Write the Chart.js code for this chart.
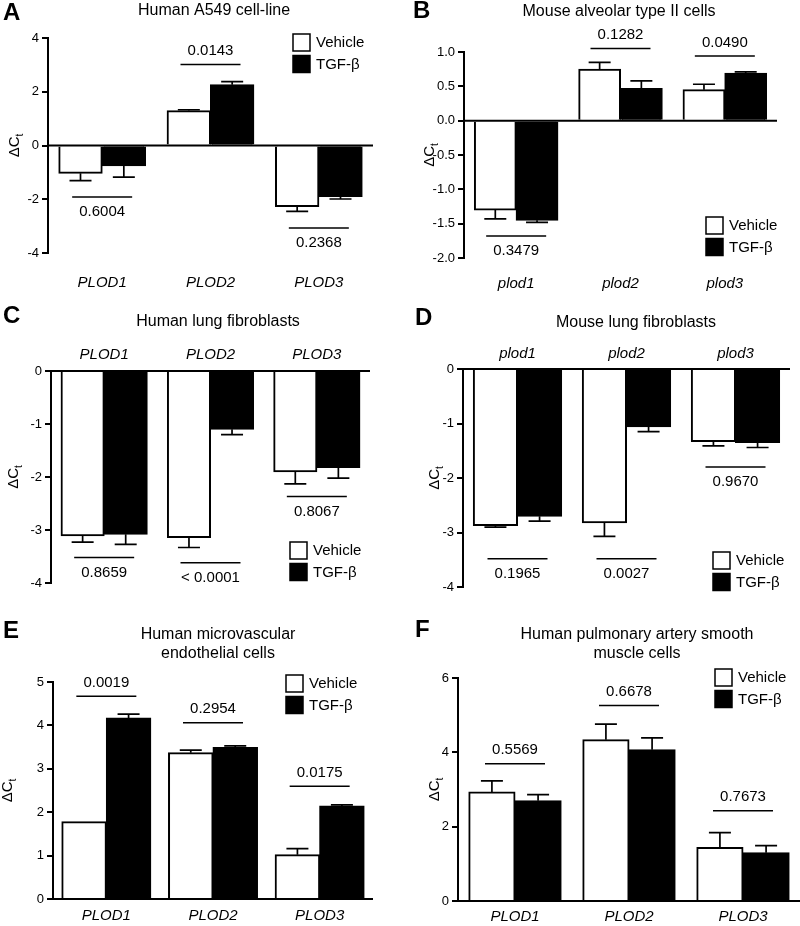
<!DOCTYPE html>
<html>
<head>
<meta charset="utf-8">
<script src="https://cdn.jsdelivr.net/npm/chart.js@4.4.1/dist/chart.umd.min.js"></script>
<style>
  body { margin: 0; background: #fff; }
  #fig { position: relative; width: 800px; height: 926px; }
  #fig canvas { position: absolute; }
</style>
</head>
<body>
<div id="fig">
  <canvas id="panelA" width="400" height="300" style="left:0;top:0"></canvas>
  <canvas id="panelB" width="400" height="300" style="left:400px;top:0"></canvas>
  <canvas id="panelC" width="400" height="320" style="left:0;top:300px"></canvas>
  <canvas id="panelD" width="400" height="320" style="left:400px;top:300px"></canvas>
  <canvas id="panelE" width="400" height="306" style="left:0;top:620px"></canvas>
  <canvas id="panelF" width="400" height="306" style="left:400px;top:620px"></canvas>
</div>
<script>
const FONT = '"Liberation Sans", Arial, Helvetica, sans-serif';
Chart.defaults.font.family = FONT;
Chart.defaults.color = '#000';

// gene names and groups
const humanGenes = ['PLOD1', 'PLOD2', 'PLOD3'];
const mouseGenes = ['plod1', 'plod2', 'plod3'];
const groupNames = ['Vehicle', 'TGF-β'];

// A - Human A549 cell-line
const a549Vehicle = [-1.03, 1.29, -2.27];
const a549VehicleErr = [0.28, 0.04, 0.18];
const a549Tgf = [-0.75, 2.26, -1.90];
const a549TgfErr = [0.43, 0.12, 0.09];
const a549P = ['0.6004', '0.0143', '0.2368'];
const a549PLine = [-1.92, 3.01, -3.07];

// B - Mouse alveolar type II cells
const at2Vehicle = [-1.30, 0.75, 0.45];
const at2VehicleErr = [0.13, 0.10, 0.08];
const at2Tgf = [-1.45, 0.47, 0.69];
const at2TgfErr = [0.03, 0.11, 0.02];
const at2P = ['0.3479', '0.1282', '0.0490'];
const at2PLine = [-1.68, 1.05, 0.94];

// C - Human lung fibroblasts
const hlfVehicle = [-3.11, -3.14, -1.90];
const hlfVehicleErr = [0.12, 0.19, 0.23];
const hlfTgf = [-3.08, -1.10, -1.82];
const hlfTgfErr = [0.19, 0.10, 0.20];
const hlfP = ['0.8659', '< 0.0001', '0.8067'];
const hlfPLine = [-3.52, -3.62, -2.37];

// D - Mouse lung fibroblasts
const mlfVehicle = [-2.87, -2.82, -1.33];
const mlfVehicleErr = [0.03, 0.25, 0.08];
const mlfTgf = [-2.70, -1.06, -1.35];
const mlfTgfErr = [0.09, 0.09, 0.09];
const mlfP = ['0.1965', '0.0027', '0.9670'];
const mlfPLine = [-3.48, -3.48, -1.80];

// E - Human microvascular endothelial cells
const hmvecVehicle = [1.78, 3.37, 1.02];
const hmvecVehicleErr = [0, 0.06, 0.14];
const hmvecTgf = [4.17, 3.49, 2.14];
const hmvecTgfErr = [0.09, 0.04, 0.03];
const hmvecP = ['0.0019', '0.2954', '0.0175'];
const hmvecPLine = [4.67, 4.06, 2.60];

// F - Human pulmonary artery smooth muscle cells
const pasmcVehicle = [2.93, 4.34, 1.44];
const pasmcVehicleErr = [0.30, 0.42, 0.40];
const pasmcTgf = [2.70, 4.07, 1.30];
const pasmcTgfErr = [0.16, 0.32, 0.19];
const pasmcP = ['0.5569', '0.6678', '0.7673'];
const pasmcPLine = [3.69, 5.26, 2.43];

const panels = [
  { id: 'panelA', letter: 'A', letterAt: [3, 20], title: ['Human A549 cell-line'], titleAt: [214, 11],
    genes: humanGenes, vehicle: a549Vehicle, vehicleErr: a549VehicleErr, tgf: a549Tgf, tgfErr: a549TgfErr,
    p: a549P, pLine: a549PLine, yMin: -4, yMax: 4, yStep: 2, decimals: 0,
    area: { left: 48, right: 373, top: 38, bottom: 253 }, xPos: 'bottom', xPad: 21, catPct: 0.8,
    yTitleX: 15, legendAt: [293, 34] },
  { id: 'panelB', letter: 'B', letterAt: [13, 18], title: ['Mouse alveolar type II cells'], titleAt: [219, 12],
    genes: mouseGenes, vehicle: at2Vehicle, vehicleErr: at2VehicleErr, tgf: at2Tgf, tgfErr: at2TgfErr,
    p: at2P, pLine: at2PLine, yMin: -2, yMax: 1, yStep: 0.5, decimals: 1,
    area: { left: 64, right: 377, top: 52, bottom: 258 }, xPos: 'bottom', xPad: 17, catPct: 0.8,
    yTitleX: 30, legendAt: [306, 217] },
  { id: 'panelC', letter: 'C', letterAt: [3, 23], title: ['Human lung fibroblasts'], titleAt: [218, 22],
    genes: humanGenes, vehicle: hlfVehicle, vehicleErr: hlfVehicleErr, tgf: hlfTgf, tgfErr: hlfTgfErr,
    p: hlfP, pLine: hlfPLine, yMin: -4, yMax: 0, yStep: 1, decimals: 0,
    area: { left: 51, right: 370, top: 71, bottom: 283 }, xPos: 'top', xPad: 7, catPct: 0.81,
    yTitleX: 14, legendAt: [290, 242] },
  { id: 'panelD', letter: 'D', letterAt: [15, 25], title: ['Mouse lung fibroblasts'], titleAt: [236, 23],
    genes: mouseGenes, vehicle: mlfVehicle, vehicleErr: mlfVehicleErr, tgf: mlfTgf, tgfErr: mlfTgfErr,
    p: mlfP, pLine: mlfPLine, yMin: -4, yMax: 0, yStep: 1, decimals: 0,
    area: { left: 63, right: 390, top: 69, bottom: 287 }, xPos: 'top', xPad: 6, catPct: 0.81,
    yTitleX: 35, legendAt: [313, 252] },
  { id: 'panelE', letter: 'E', letterAt: [3, 18], title: ['Human microvascular', 'endothelial cells'], titleAt: [218, 15],
    genes: humanGenes, vehicle: hmvecVehicle, vehicleErr: hmvecVehicleErr, tgf: hmvecTgf, tgfErr: hmvecTgfErr,
    p: hmvecP, pLine: hmvecPLine, yMin: 0, yMax: 5, yStep: 1, decimals: 0,
    area: { left: 53, right: 373, top: 62, bottom: 279 }, xPos: 'bottom', xPad: 8, catPct: 0.834,
    yTitleX: 8, legendAt: [286, 55] },
  { id: 'panelF', letter: 'F', letterAt: [15, 17], title: ['Human pulmonary artery smooth', 'muscle cells'], titleAt: [237, 15],
    genes: humanGenes, vehicle: pasmcVehicle, vehicleErr: pasmcVehicleErr, tgf: pasmcTgf, tgfErr: pasmcTgfErr,
    p: pasmcP, pLine: pasmcPLine, yMin: 0, yMax: 6, yStep: 2, decimals: 0,
    area: { left: 58, right: 400, top: 58, bottom: 281 }, xPos: 'bottom', xPad: 7, catPct: 0.81,
    yTitleX: 35, legendAt: [315, 49] }
];

// draws zero line, error bars, p-value brackets, legend, titles
function decor(panel) {
  return {
    id: 'decor',
    afterDatasetsDraw(chart) {
      const ctx = chart.ctx, y = chart.scales.y, area = chart.chartArea;
      ctx.save();
      ctx.strokeStyle = '#000';
      ctx.lineWidth = 1.7;
      [panel.vehicleErr, panel.tgfErr].forEach((errs, i) => {
        const data = chart.data.datasets[i].data;
        chart.getDatasetMeta(i).data.forEach((bar, j) => {
          if (!errs[j]) return;
          const v = data[j];
          const end = y.getPixelForValue(v + Math.sign(v) * errs[j]);
          ctx.beginPath();
          ctx.moveTo(bar.x, bar.y);
          ctx.lineTo(bar.x, end);
          ctx.moveTo(bar.x - 11, end);
          ctx.lineTo(bar.x + 11, end);
          ctx.stroke();
        });
      });
      // zero line
      const y0 = y.getPixelForValue(0);
      ctx.lineWidth = 2;
      ctx.beginPath();
      ctx.moveTo(area.left, y0);
      ctx.lineTo(area.right, y0);
      ctx.stroke();
      ctx.restore();
    },
    afterDraw(chart) {
      const ctx = chart.ctx, x = chart.scales.x, y = chart.scales.y, area = chart.chartArea;
      ctx.save();
      ctx.fillStyle = '#000';
      ctx.strokeStyle = '#000';

      // p-value brackets
      ctx.font = '15px ' + FONT;
      ctx.textAlign = 'center';
      ctx.textBaseline = 'alphabetic';
      panel.pLine.forEach((val, j) => {
        const cx = x.getPixelForValue(j);
        const ly = y.getPixelForValue(val);
        ctx.lineWidth = 1.5;
        ctx.beginPath();
        ctx.moveTo(cx - 30, ly);
        ctx.lineTo(cx + 30, ly);
        ctx.stroke();
        ctx.fillText(panel.p[j], cx, val >= 0 ? ly - 9.5 : ly + 19);
      });

      // legend
      const [lx, ly] = panel.legendAt;
      chart.data.datasets.forEach((ds, k) => {
        const by = ly + k * 21.5;
        ctx.fillStyle = ds.backgroundColor;
        ctx.fillRect(lx, by, 17, 17);
        ctx.lineWidth = 1.5;
        ctx.strokeRect(lx, by, 17, 17);
        ctx.fillStyle = '#000';
        ctx.font = '15px ' + FONT;
        ctx.textAlign = 'left';
        ctx.textBaseline = 'middle';
        ctx.fillText(ds.label, lx + 23, by + 9);
      });

      // panel letter
      ctx.font = 'bold 24px ' + FONT;
      ctx.textAlign = 'left';
      ctx.textBaseline = 'alphabetic';
      ctx.fillText(panel.letter, panel.letterAt[0], panel.letterAt[1]);

      // title
      ctx.font = '16px ' + FONT;
      ctx.textAlign = 'center';
      ctx.textBaseline = 'middle';
      panel.title.forEach((line, k) => {
        ctx.fillText(line, panel.titleAt[0], panel.titleAt[1] + k * 19);
      });

      // y axis title: ΔCt
      ctx.translate(panel.yTitleX, (area.top + area.bottom) / 2);
      ctx.rotate(-Math.PI / 2);
      ctx.font = '15px ' + FONT;
      const w1 = ctx.measureText('ΔC').width;
      ctx.font = '10px ' + FONT;
      const w2 = ctx.measureText('t').width;
      ctx.textAlign = 'left';
      ctx.font = '15px ' + FONT;
      ctx.fillText('ΔC', -(w1 + w2) / 2, 0);
      ctx.font = '10px ' + FONT;
      ctx.fillText('t', -(w1 + w2) / 2 + w1, 5);
      ctx.restore();
    }
  };
}

panels.forEach(panel => {
  const canvas = document.getElementById(panel.id);
  const W = canvas.width, H = canvas.height, a = panel.area;
  const top = panel.xPos === 'top';
  const xHeight = top ? a.top : H - a.bottom;

  new Chart(canvas, {
    type: 'bar',
    data: {
      labels: panel.genes,
      datasets: [
        { label: groupNames[0], data: panel.vehicle, backgroundColor: '#fff', borderColor: '#000', borderWidth: 2 },
        { label: groupNames[1], data: panel.tgf, backgroundColor: '#000', borderColor: '#000', borderWidth: 2 }
      ]
    },
    options: {
      responsive: false,
      animation: false,
      devicePixelRatio: 1,
      datasets: { bar: { barPercentage: 1, categoryPercentage: panel.catPct, inflateAmount: 0.5 } },
      layout: {
        padding: { left: 0, right: W - a.right, top: top ? 0 : a.top, bottom: top ? H - a.bottom : 0 }
      },
      plugins: { legend: { display: false }, tooltip: { enabled: false }, title: { display: false } },
      scales: {
        x: {
          position: panel.xPos,
          grid: { display: false, drawTicks: false },
          border: { display: false },
          ticks: { font: { size: 15, style: 'italic' }, color: '#000', padding: panel.xPad, maxRotation: 0 },
          afterFit: s => { s.height = xHeight; }
        },
        y: {
          min: panel.yMin,
          max: panel.yMax,
          grid: { drawOnChartArea: false, tickLength: 6, tickColor: '#000', lineWidth: 2 },
          border: { display: true, color: '#000', width: 2 },
          ticks: {
            stepSize: panel.yStep,
            padding: 3,
            color: '#000',
            font: { size: 13 },
            callback: v => Number(v).toFixed(panel.decimals)
          },
          afterFit: s => { s.width = a.left; }
        }
      }
    },
    plugins: [decor(panel)]
  });
});
</script>
</body>
</html>
